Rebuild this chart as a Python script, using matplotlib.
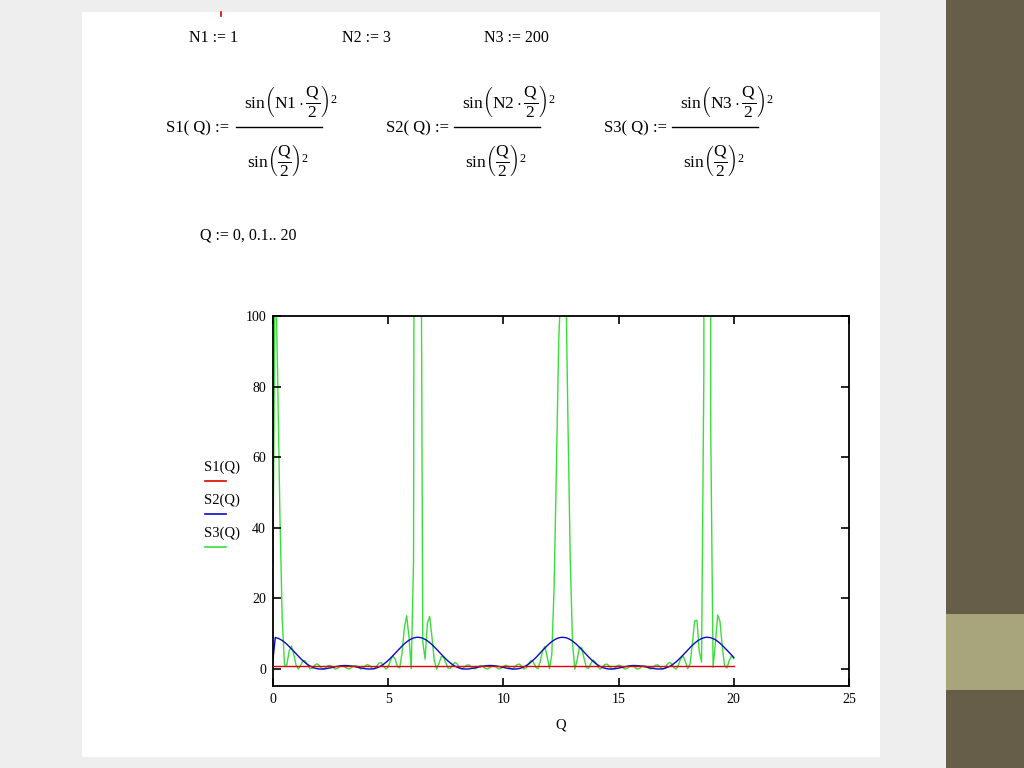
import numpy as np
import matplotlib
matplotlib.use("Agg")
import matplotlib.pyplot as plt
from matplotlib.patches import Rectangle
from matplotlib.lines import Line2D

# ---------------- data (values read for Q = 0, 0.1 .. 20) ----------------
Q_START, Q_STEP, Q_STOP = 0.0, 0.1, 20.0
x_ticks = [0, 5, 10, 15, 20, 25]
y_ticks = [0, 20, 40, 60, 80, 100]
series_labels = ["S1(Q)", "S2(Q)", "S3(Q)"]

S1 = [1.0] * 201

S2 = [2.8, 8.94, 8.76, 8.47, 8.08, 7.59, 7.03, 6.40, 5.73, 5.03, 4.33, 3.64, 2.97, 2.36, 1.80, 1.30,
      0.89, 0.55, 0.30, 0.12, 0.03, 0.00, 0.03, 0.11, 0.23, 0.36, 0.51, 0.65, 0.78, 0.89, 0.96, 1.00,
      0.99, 0.95, 0.87, 0.76, 0.63, 0.48, 0.34, 0.20, 0.09, 0.02, 0.00, 0.04, 0.15, 0.33, 0.60, 0.95,
      1.38, 1.89, 2.46, 3.08, 3.75, 4.45, 5.15, 5.84, 6.51, 7.13, 7.68, 8.15, 8.53, 8.80, 8.96, 9.00,
      8.92, 8.72, 8.41, 8.00, 7.50, 6.92, 6.29, 5.61, 4.91, 4.21, 3.52, 2.87, 2.26, 1.71, 1.23, 0.82,
      0.50, 0.26, 0.10, 0.02, 0.00, 0.04, 0.13, 0.25, 0.39, 0.53, 0.68, 0.80, 0.90, 0.97, 1.00, 0.99,
      0.94, 0.86, 0.74, 0.61, 0.46, 0.31, 0.18, 0.08, 0.01, 0.00, 0.05, 0.17, 0.37, 0.65, 1.02, 1.46,
      1.98, 2.56, 3.19, 3.87, 4.56, 5.27, 5.96, 6.62, 7.22, 7.76, 8.22, 8.58, 8.84, 8.97, 8.99, 8.89,
      8.68, 8.35, 7.92, 7.41, 6.82, 6.18, 5.50, 4.80, 4.09, 3.41, 2.76, 2.16, 1.62, 1.15, 0.76, 0.46,
      0.23, 0.08, 0.01, 0.00, 0.05, 0.15, 0.27, 0.41, 0.56, 0.70, 0.82, 0.92, 0.98, 1.00, 0.98, 0.93,
      0.84, 0.72, 0.58, 0.44, 0.29, 0.16, 0.07, 0.01, 0.01, 0.07, 0.20, 0.42, 0.71, 1.09, 1.54, 2.07,
      2.66, 3.30, 3.98, 4.68, 5.39, 6.07, 6.72, 7.32, 7.85, 8.29, 8.63, 8.87, 8.99, 8.98, 8.86, 8.63,
      8.29, 7.84, 7.31, 6.72, 6.07, 5.38, 4.68, 3.98, 3.30]

S3 = [30.0, 118, 83.6, 43.7, 14.1, 1.1, 1.1, 5.1, 6.5, 4.2, 1.1, 0.0, 1.1, 2.4, 2.3, 1.1,
      0.1, 0.2, 1.0, 1.5, 1.1, 0.3, 0.0, 0.5, 1.0, 1.0, 0.5, 0.0, 0.2, 0.7, 1.0, 0.7,
      0.2, 0.0, 0.4, 0.9, 1.0, 0.5, 0.0, 0.2, 0.9, 1.3, 0.9, 0.2, 0.0, 0.8, 1.7, 1.8,
      0.8, 0.0, 0.6, 2.5, 3.7, 2.9, 0.7, 0.3, 4.6, 11.6, 15.1, 9.3, 0.1, 30.7, 462, 13975,
      176, 7.9, 2.8, 13.0, 14.9, 9.0, 2.4, 0.0, 1.5, 3.5, 3.5, 1.7, 0.2, 0.2, 1.3, 1.9,
      1.4, 0.4, 0.0, 0.5, 1.1, 1.2, 0.6, 0.1, 0.1, 0.7, 1.0, 0.8, 0.2, 0.0, 0.4, 0.9,
      0.9, 0.5, 0.0, 0.2, 0.7, 1.1, 0.8, 0.2, 0.0, 0.6, 1.3, 1.4, 0.7, 0.0, 0.4, 1.6,
      2.5, 2.0, 0.5, 0.1, 2.2, 5.3, 6.4, 3.5, 0.1, 4.1, 23.0, 56.5, 93.0, 109, 170, 115,
      70.7, 31.4, 7.3, 0.0, 2.6, 6.2, 6.0, 3.0, 0.4, 0.2, 1.7, 2.6, 1.9, 0.6, 0.0, 0.5,
      1.3, 1.4, 0.8, 0.1, 0.1, 0.7, 1.1, 0.9, 0.3, 0.0, 0.3, 0.9, 1.0, 0.5, 0.0, 0.1,
      0.7, 1.0, 0.8, 0.2, 0.0, 0.4, 1.1, 1.2, 0.6, 0.0, 0.2, 1.2, 1.9, 1.5, 0.4, 0.0,
      1.2, 3.1, 3.7, 2.0, 0.1, 1.4, 7.1, 13.6, 13.8, 5.0, 2.0, 83.7, 1535, 1405, 67.2, 0.5,
      7.2, 15.3, 13.5, 6.3, 0.9, 0.3, 2.4, 3.8, 2.9]

# ---------------- figure ----------------
plt.rcParams['mathtext.fontset'] = 'custom'
plt.rcParams['mathtext.rm'] = 'Liberation Serif'
plt.rcParams['mathtext.it'] = 'Liberation Serif'
plt.rcParams['mathtext.bf'] = 'Liberation Serif:bold'
SERIF = 'Liberation Serif'

W, H = 1024, 768
fig = plt.figure(figsize=(W / 100, H / 100), dpi=100)
fig.patch.set_facecolor('#eeeeee')


def fx(x):
    return x / W


def fy(y):
    return 1 - y / H


def rect(x0, y0, x1, y1, color, z=0):
    fig.add_artist(Rectangle((fx(x0), fy(y1)), fx(x1) - fx(x0), fy(y0) - fy(y1),
                             transform=fig.transFigure, facecolor=color,
                             edgecolor='none', zorder=z))


# slide decoration
rect(946, 0, 1024, 768, '#665e48')
rect(946, 614, 1024, 690, '#a8a57d')
rect(82, 12, 880, 757, '#ffffff')

# small red mark
fig.add_artist(Line2D([fx(221), fx(221)], [fy(12), fy(16)], color='#e00000', lw=1.2,
                      transform=fig.transFigure))

# definitions
fs = 11.5
fig.text(fx(189), fy(38), "N1 := 1", family=SERIF, fontsize=fs, va='center')
fig.text(fx(342), fy(38), "N2 := 3", family=SERIF, fontsize=fs, va='center')
fig.text(fx(484), fy(38), "N3 := 200", family=SERIF, fontsize=fs, va='center')

ffs = 12.5
for name, nn, xl, xb0, xb1 in [("S1", "N1", 166, 236, 322),
                               ("S2", "N2", 386, 454, 540),
                               ("S3", "N3", 604, 672, 758)]:
    fig.text(fx(xl), fy(128), name + "( Q) :=", family=SERIF, fontsize=12, va='center')
    fig.add_artist(Line2D([fx(xb0), fx(xb1)], [fy(127), fy(127)], color='black', lw=1.0,
                          transform=fig.transFigure))
    mid = (xb0 + xb1) / 2
    fig.text(fx(mid + 12), fy(101),
             r"$\mathrm{sin}\left(\mathrm{" + nn + r"}\cdot\dfrac{Q}{2}\right)^{2}$",
             fontsize=ffs, ha='center', va='center')
    fig.text(fx(mid - 1), fy(160), r"$\mathrm{sin}\left(\dfrac{Q}{2}\right)^{2}$",
             fontsize=ffs, ha='center', va='center')

fig.text(fx(200), fy(236), "Q := 0, 0.1.. 20", family=SERIF, fontsize=fs, va='center')

# ---------------- axes ----------------
ax = fig.add_axes([fx(273), fy(686), fx(849) - fx(273), fy(316) - fy(686)])
ax.set_zorder(2)
n = len(S1)
Q = np.linspace(Q_START, Q_STOP, n)

ax.plot(Q, S3, color='#3ade3a', lw=1.0, zorder=1)
ax.plot(Q, S2, color='#0a0ac8', lw=1.0, zorder=2)
ax.plot(Q, S1, color='#e00000', lw=1.0, zorder=3)

ax.set_xlim(0, 25)
ax.set_ylim(-4.8, 100)
ax.set_xticks(x_ticks)
ax.set_yticks(y_ticks)
ax.tick_params(direction='in', length=6, width=1.2, top=True, right=True,
               labelsize=10, pad=5, colors='black')
for lab in ax.get_xticklabels() + ax.get_yticklabels():
    lab.set_family(SERIF)
for sp in ax.spines.values():
    sp.set_linewidth(1.3)
ax.set_xlabel("Q", family=SERIF, fontsize=10.5, labelpad=9)

# legend-like labels at left
colors = ['#e00000', '#0a0ac8', '#3ade3a']
for i, (lab, c) in enumerate(zip(series_labels, colors)):
    yy = 467 + 33 * i
    fig.text(fx(204), fy(yy), lab, family=SERIF, fontsize=10.5, va='center')
    fig.add_artist(Line2D([fx(205), fx(226)], [fy(yy + 14), fy(yy + 14)], color=c, lw=1.2,
                          transform=fig.transFigure))

fig.savefig("out.png", dpi=100, facecolor=fig.get_facecolor())
